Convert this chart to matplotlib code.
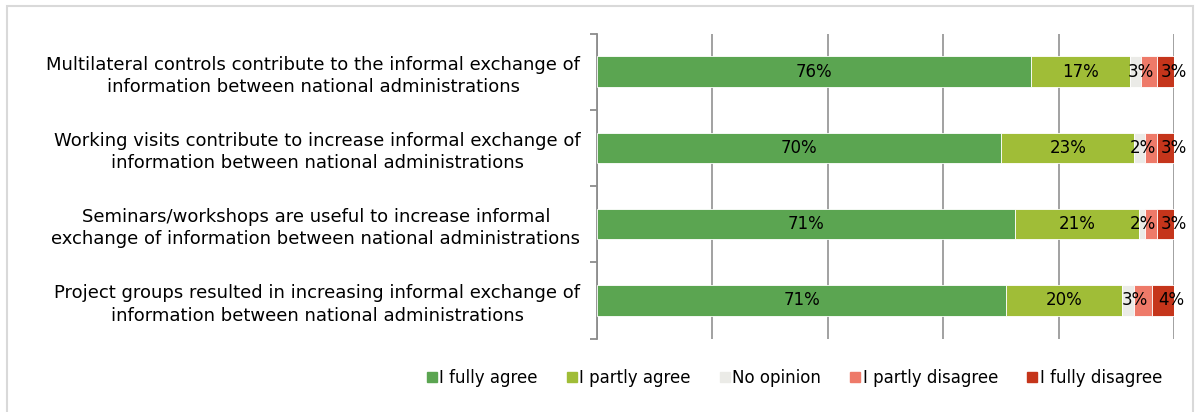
import matplotlib
matplotlib.use("Agg")
import matplotlib.pyplot as plt
from matplotlib.patches import Rectangle
from matplotlib.lines import Line2D
from matplotlib.transforms import offset_copy
import numpy as np

categories = [
    "Multilateral controls contribute to the informal exchange of\ninformation between national administrations",
    "Working visits contribute to increase informal exchange of\ninformation between national administrations",
    "Seminars/workshops are useful to increase informal\nexchange of information between national administrations",
    "Project groups resulted in increasing informal exchange of\ninformation between national administrations",
]
series_names = ["I fully agree", "I partly agree", "No opinion", "I partly disagree", "I fully disagree"]
fully_agree = [75.3, 70.1, 72.5, 70.9]
partly_agree = [17.0, 23.0, 21.5, 20.1]
no_opinion = [1.9, 1.9, 1.0, 2.1]
partly_disagree = [2.9, 2.1, 2.1, 3.1]
fully_disagree = [2.9, 2.9, 2.9, 3.8]
label_fully_agree = ["76%", "70%", "71%", "71%"]
label_partly_agree = ["17%", "23%", "21%", "20%"]
label_partly_disagree = ["3%", "2%", "2%", "3%"]
label_fully_disagree = ["3%", "3%", "3%", "4%"]
colors = ["#5BA551", "#A0BD37", "#EBEBE7", "#EE7A69", "#C5351B"]

plt.rcParams['font.family'] = ['DejaVu Sans']
fig = plt.figure(figsize=(11.96, 4.12), dpi=100)
ax = fig.add_axes([597/1196, 1-338.5/412, (1174-597)/1196, (338.5-33.5)/412])

series = [fully_agree, partly_agree, no_opinion, partly_disagree, fully_disagree]
y = np.arange(len(categories))
left = np.zeros(len(categories))
bars = []
for vals, col, name in zip(series, colors, series_names):
    vals = np.array(vals) / 100.0
    b = ax.barh(y, vals, left=left, height=0.4, color=col, edgecolor="white", linewidth=0.6, label=name, zorder=3)
    bars.append((b, left.copy(), vals))
    left = left + vals

labels_all = [label_fully_agree, label_partly_agree, None, label_partly_disagree, label_fully_disagree]
offsets = [0, 0, 0, -6, 6]
for (b, lft, vals), labs, off in zip(bars, labels_all, offsets):
    if labs is None:
        continue
    tr = offset_copy(ax.transData, fig=fig, x=off, y=0, units='points')
    for i in range(len(y)):
        ax.text(lft[i] + vals[i] / 2, y[i], labs[i], ha="center", va="center",
                fontsize=12, color="black", transform=tr, zorder=4)

ax.set_xlim(0, 1)
ax.set_ylim(len(categories) - 0.5, -0.5)
ax.set_xticks(np.linspace(0, 1, 6))
ax.set_xticklabels([])
ax.tick_params(axis="x", length=0)
ax.grid(axis="x", color="#9A9A9A", linewidth=1.3, zorder=0)
ax.set_yticks(y)
ax.set_yticklabels(categories, fontsize=13)
for t in ax.get_yticklabels():
    t.set_multialignment("center")
    t.set_linespacing(1.3)
ax.tick_params(axis="y", which="major", length=0, pad=12)
ax.set_yticks(np.arange(len(categories) + 1) - 0.5, minor=True)
ax.tick_params(axis="y", which="minor", length=5, color="#8C8C8C", width=1.3)
for s in ["top", "right", "bottom"]:
    ax.spines[s].set_visible(False)
ax.spines["left"].set_color("#8C8C8C")
ax.spines["left"].set_linewidth(1.3)

handles = [Line2D([], [], marker="s", linestyle="none", markersize=7, markerfacecolor=c, markeredgecolor=c) for c in colors]
fig.legend(handles, series_names, loc="center", bbox_to_anchor=(794/1196, 1-378/412), ncol=5,
           frameon=False, fontsize=12, handletextpad=0.1, columnspacing=1.7, handlelength=0.7)

fig.patches.append(Rectangle((7/1196, -0.05), (1193-7)/1196, 1.05 - 6/412, transform=fig.transFigure,
                             fill=False, edgecolor="#D9D9D9", linewidth=1.5))

fig.savefig("out.png", dpi=100)
